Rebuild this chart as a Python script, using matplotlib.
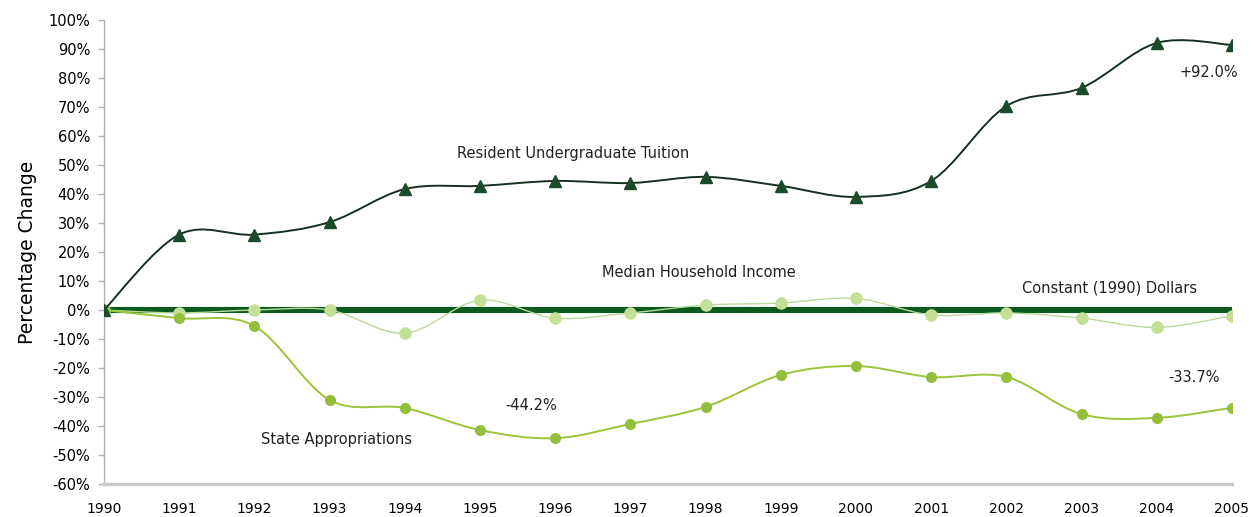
import numpy as np
import matplotlib as mplt
import matplotlib.pyplot as plt
from matplotlib.path import Path
from matplotlib.patches import PathPatch

mplt.rcParams['font.family'] = ['DejaVu Sans']

years = np.arange(1990, 2006)
tuition = [0, 26, 26, 30.3, 41.7, 42.8, 44.5, 43.8, 45.9, 42.8, 39.0, 44.5, 70.3, 76.6, 92.1, 91.4]
income = [0, -1, 0, 0, -8, 3.4, -2.8, -1, 1.7, 2.4, 4.0, -1.7, -1, -2.8, -6, -2]
state_approp = [0, -2.8, -5.5, -31, -33.8, -41.4, -44.2, -39.3, -33.4, -22.4, -19.3, -23.1, -23.1, -35.9, -37.2, -33.7]
constant = [0] * len(years)

yticks = np.arange(-60, 101, 10)
ytick_labels = ["%d%%" % v for v in yticks]


def smooth_path(x, y):
    # Excel-style smoothed line: Catmull-Rom segments as cubic Bezier curves
    p = np.column_stack([x, y]).astype(float)
    n = len(p)
    verts = [p[0]]
    codes = [Path.MOVETO]
    for i in range(n - 1):
        p0 = p[i - 1] if i > 0 else p[i]
        p3 = p[i + 2] if i + 2 < n else p[i + 1]
        c1 = p[i] + (p[i + 1] - p0) / 6.0
        c2 = p[i + 1] - (p3 - p[i]) / 6.0
        verts += [c1, c2, p[i + 1]]
        codes += [Path.CURVE4] * 3
    return Path(verts, codes)


fig = plt.figure(figsize=(12.51, 5.17), dpi=100)
ax = fig.add_axes([0.0831, 0.0638, 0.9017, 0.8975])

# constant dollars baseline
ax.plot(years, constant, color="#0b5a1e", linewidth=4.4, zorder=2, solid_capstyle="butt")

# median household income
ax.add_patch(PathPatch(smooth_path(years, income), facecolor="none", edgecolor="#b9d99a", linewidth=1.0, zorder=3))
ax.plot(years, income, linestyle="none", marker="o", markersize=8, color="#c4df96", zorder=3)

# state appropriations
ax.add_patch(PathPatch(smooth_path(years, state_approp), facecolor="none", edgecolor="#9bc43a", linewidth=1.4, zorder=4))
ax.plot(years, state_approp, linestyle="none", marker="o", markersize=7, color="#93bf3c", zorder=4)

# tuition
ax.add_patch(PathPatch(smooth_path(years, tuition), facecolor="none", edgecolor="#16301f", linewidth=1.4, zorder=5))
ax.plot(years, tuition, linestyle="none", marker="^", markersize=8, color="#1c4a2c", zorder=5)

ax.set_xlim(1990, 2005)
ax.set_ylim(-60, 100)
ax.set_xticks(years)
ax.set_xticklabels([str(y) for y in years], fontsize=10)
ax.set_yticks(yticks)
ax.set_yticklabels(ytick_labels, fontsize=10.5)
ax.tick_params(axis="x", length=0, pad=13)
ax.tick_params(axis="y", length=4, width=1, color="#b0b0b0", pad=6)

for side in ["top", "right"]:
    ax.spines[side].set_visible(False)
ax.spines["left"].set_color("#b0b0b0")
ax.spines["left"].set_linewidth(1.0)
ax.spines["bottom"].set_color("#c8c8c8")
ax.spines["bottom"].set_linewidth(2.5)
ax.spines["left"].set_zorder(1)

ax.set_ylabel("Percentage Change", fontsize=13.5, labelpad=8)

txt = dict(fontsize=10.5, color="#222222", va="center")
ax.text(1996.24, 53.8, "Resident Undergraduate Tuition", ha="center", **txt)
ax.text(1997.91, 12.8, "Median Household Income", ha="center", **txt)
ax.text(2003.37, 7.6, "Constant (1990) Dollars", ha="center", **txt)
ax.text(1993.09, -44.8, "State Appropriations", ha="center", **txt)
ax.text(1995.68, -32.8, "-44.2%", ha="center", **txt)
ax.text(2004.5, -23.4, "-33.7%", ha="center", **txt)
ax.text(2004.3, 82, "+92.0%", ha="left", **txt)

fig.savefig("out.png", dpi=100)
